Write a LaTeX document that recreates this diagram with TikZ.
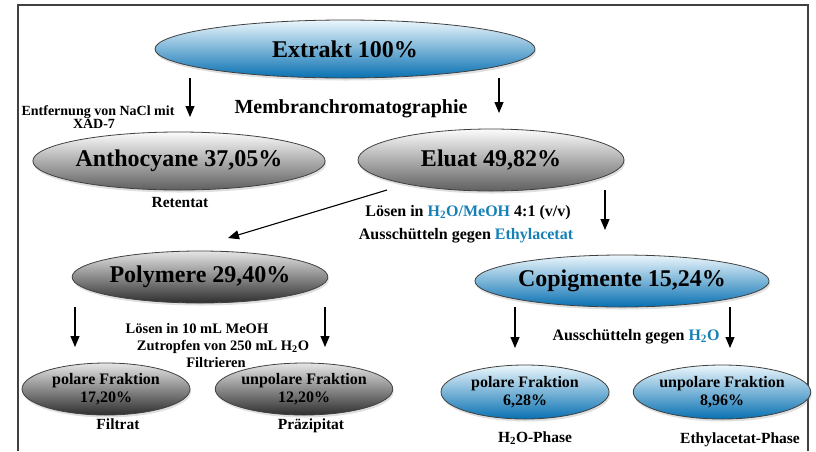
\documentclass[tikz,border=0pt]{standalone}
\usepackage{fontspec}
\setmainfont{Liberation Serif}
\usetikzlibrary{shapes.geometric,arrows.meta,shadows}
\definecolor{blueT}{RGB}{22,128,182}
\definecolor{bTop}{RGB}{236,247,252}
\definecolor{bMid}{RGB}{52,168,220}
\definecolor{bBot}{RGB}{8,112,178}
\definecolor{gTop}{RGB}{252,252,252}
\definecolor{gMid}{RGB}{205,205,205}
\definecolor{gBot}{RGB}{95,95,95}
\newcommand{\fs}[1]{\fontsize{#1}{#1}\selectfont\bfseries}
\begin{document}
\begin{tikzpicture}[x=1pt,y=-1pt,
  ell/.style={ellipse,draw=black!75,line width=0.8pt,inner sep=0pt,align=center,
    drop shadow={opacity=0.25,shadow xshift=1pt,shadow yshift=-2.5pt}},
  blueell/.style={ell,top color=bTop,middle color=bMid,bottom color=bBot},
  grayell/.style={ell,top color=gTop,middle color=gMid,bottom color=gBot},
  darkell/.style={ell,top color=black!10,middle color=black!45,bottom color=black!82},
  big/.style={font=\fs{24}},
  frac/.style={font=\fontsize{16}{18}\selectfont\bfseries},
  lbl/.style={inner sep=0pt,anchor=base},
  arr/.style={line width=1.1pt,-{Triangle[width=9pt,length=11pt]}}]
\useasboundingbox (0,0) rectangle (816,451);
\draw[line width=1.2pt,black!75] (18,451) -- (18,5) -- (808,5) -- (808,451);

% ellipses
\node[blueell,big,minimum width=380pt,minimum height=58pt] (ext) at (345,49) {Extrakt 100\%};
\node[grayell,big,minimum width=272pt,minimum height=58pt] (antho) at (179,161) {Anthocyane 37,05\%};
\node[grayell,big,minimum width=266pt,minimum height=62pt] (eluat) at (491,160) {Eluat 49,82\%};
\node[darkell,big,minimum width=230pt,minimum height=52pt] (poly) at (200,277) {Polymere 29,40\%};
\node[blueell,big,minimum width=230pt,minimum height=52pt] (copig) at (622,281) {Copigmente 15,24\%};
\node[darkell,frac,minimum width=168pt,minimum height=52pt] (pf1) at (106,389) {polare Fraktion\\17,20\%};
\node[darkell,frac,minimum width=168pt,minimum height=52pt] (uf1) at (304,389) {unpolare Fraktion\\12,20\%};
\node[blueell,frac,minimum width=168pt,minimum height=54pt] (pf2) at (525,392) {polare Fraktion\\6,28\%};
\node[blueell,frac,minimum width=168pt,minimum height=54pt] (uf2) at (722,392) {unpolare Fraktion\\8,96\%};

% arrows
\coordinate (a1s) at (190,78);  \coordinate (a1e) at (190,117);
\coordinate (a2s) at (499,78);  \coordinate (a2e) at (499,113);
\coordinate (a3s) at (387,190); \coordinate (a3e) at (228,238);
\coordinate (a4s) at (605,190); \coordinate (a4e) at (605,230);
\coordinate (a5s) at (75,307);  \coordinate (a5e) at (75,347);
\coordinate (a6s) at (325,307); \coordinate (a6e) at (325,347);
\coordinate (a7s) at (515,307); \coordinate (a7e) at (515,348);
\coordinate (a8s) at (730,307); \coordinate (a8e) at (730,348);
\foreach \i in {1,...,8} {\draw[arr] (a\i s) -- (a\i e);}

% labels (baseline anchored)
\node[lbl,font=\fs{14}] (t1) at (98,115) {Entfernung von NaCl mit};
\node[lbl,font=\fs{14}] (t2) at (94,128) {XAD-7};
\node[lbl,font=\fs{20}] (t3) at (351,113) {Membranchromatographie};
\node[lbl,font=\fs{15.5}] (t4) at (180,207) {Retentat};
\node[lbl,font=\fs{16}] (t5) at (468,216) {Lösen in \textcolor{blueT}{H\textsubscript{2}O/MeOH} 4:1 (v/v)};
\node[lbl,font=\fs{16}] (t6) at (466,239) {Ausschütteln gegen \textcolor{blueT}{Ethylacetat}};
\node[lbl,font=\fs{14.5}] (t7) at (197,333) {Lösen in 10 mL MeOH};
\node[lbl,font=\fs{14.5}] (t8) at (223,350) {Zutropfen von 250 mL H\textsubscript{2}O};
\node[lbl,font=\fs{14.5}] (t9) at (216,367) {Filtrieren};
\node[lbl,font=\fs{16}] (t10) at (636,340) {Ausschütteln gegen \textcolor{blueT}{H\textsubscript{2}O}};
\node[lbl,font=\fs{15.5}] (t11) at (118,429) {Filtrat};
\node[lbl,font=\fs{15.5}] (t12) at (311,429) {Präzipitat};
\node[lbl,font=\fs{15.5}] (t13) at (535,442) {H\textsubscript{2}O-Phase};
\node[lbl,font=\fs{15.5}] (t14) at (740,443) {Ethylacetat-Phase};
\end{tikzpicture}
\end{document}
